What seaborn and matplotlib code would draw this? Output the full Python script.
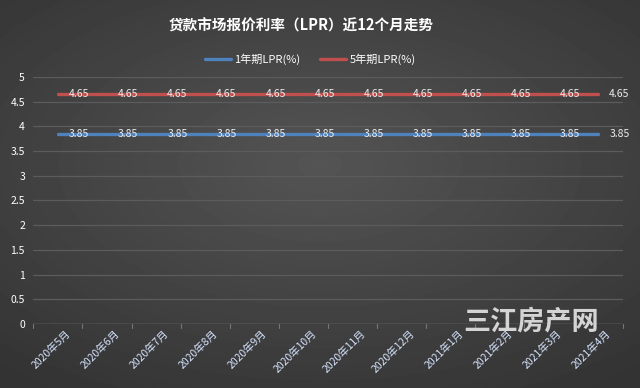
import seaborn as sns
import matplotlib.pyplot as plt
import numpy as np
import pandas as pd

months = ["2020年5月", "2020年6月", "2020年7月", "2020年8月", "2020年9月", "2020年10月",
          "2020年11月", "2020年12月", "2021年1月", "2021年2月", "2021年3月", "2021年4月"]
lpr_1y = [3.85] * 12
lpr_5y = [4.65] * 12
series = ["1年期LPR(%)", "5年期LPR(%)"]

# long form for seaborn
df = pd.DataFrame({
    "month": months * 2,
    "rate": lpr_1y + lpr_5y,
    "type": [series[0]] * 12 + [series[1]] * 12,
})

sns.set_theme(style="dark")
plt.rcParams["font.family"] = ["Noto Sans CJK SC", "DejaVu Sans"]

fig = plt.figure(figsize=(6.4, 3.88), dpi=100)

# radial gradient background
bg = fig.add_axes([0, 0, 1, 1], zorder=-10)
yy, xx = np.mgrid[-1:1:388j, -1:1:640j]
r = np.sqrt((xx * 0.9) ** 2 + ((yy + 0.15) * 1.0) ** 2)
bg.imshow(0.33 - 0.13 * np.clip(r, 0, 1.4) / 1.4, cmap="gray", vmin=0, vmax=1,
          aspect="auto", extent=[0, 1, 0, 1])
bg.axis("off")

ax = fig.add_axes([0.052, 0.165, 0.921, 0.637])
ax.set_facecolor("none")

colors = {series[0]: "#4f81bd", series[1]: "#c0504d"}
sns.lineplot(data=df, x="month", y="rate", hue="type", palette=colors,
             linewidth=2.4, sort=False, ax=ax, legend=False)

# data labels to the right of each point
for vals in [lpr_1y, lpr_5y]:
    for i, v in enumerate(vals):
        ax.annotate(f"{v:.2f}", (i, v), xytext=(8, 0), textcoords="offset points",
                    va="center", ha="left", fontsize=7.5, color="#ececec")

ax.set_xlim(-0.5, 11.5)
ax.set_ylim(0, 5)
ax.set_yticks(np.arange(0, 5.01, 0.5))
ax.set_yticklabels(["0", "0.5", "1", "1.5", "2", "2.5", "3", "3.5", "4", "4.5", "5"])
ax.grid(axis="y", color="#5c5c5c", linewidth=0.9)
ax.grid(axis="x", visible=False)
for s in ax.spines.values():
    s.set_visible(False)
ax.axhline(0, color="#777777", linewidth=1)
for xb in np.arange(-0.5, 12, 1):
    ax.plot([xb, xb], [0, -0.08], color="#777777", linewidth=0.8, clip_on=False)
ax.set_xlabel("")
ax.set_ylabel("")
ax.tick_params(axis="y", colors="white", labelsize=7.5, length=0, pad=6)
ax.tick_params(axis="x", colors="white", labelsize=7.5, length=0, pad=3)
ax.set_xticks(np.arange(12) + 0.15)
ax.set_xticklabels(months, rotation=45, ha="right", rotation_mode="anchor", color="#d6e4ff")

fig.text(0.47, 0.933, "贷款市场报价利率（LPR）近12个月走势", ha="center", va="center",
         fontsize=10.5, fontweight="bold", color="white")

handles = [plt.Line2D([], [], color=colors[s], linewidth=2.4) for s in series]
fig.legend(handles, series, loc="center", bbox_to_anchor=(0.485, 0.848), ncol=2,
           frameon=False, fontsize=8, labelcolor="white", handlelength=2.3,
           columnspacing=1.8, handletextpad=0.3)

# watermark
fig.text(0.83, 0.172, "三江房产网", ha="center", va="center", fontsize=19.5,
         fontweight="bold", color="#e6e6e6", alpha=0.9)

fig.savefig("out.png", dpi=100)
